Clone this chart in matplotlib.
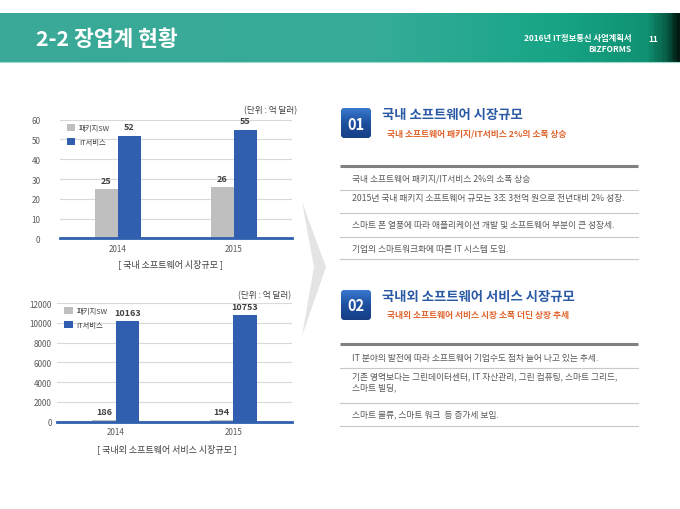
import numpy as np
import matplotlib
matplotlib.use("Agg")
import matplotlib.pyplot as plt
from matplotlib.colors import LinearSegmentedColormap
from matplotlib.patches import FancyBboxPatch, Polygon

plt.rcParams['font.family'] = ['Noto Sans CJK KR', 'DejaVu Sans']

# data
years = ['2014', '2015']
series_names = ['패키지SW', 'IT서비스']
domestic_pkg = [25, 26]
domestic_it = [52, 55]
world_pkg = [186, 194]
world_it = [10163, 10753]

unit_label = '(단위 : 억 달러)'
caption1 = '[ 국내 소프트웨어 시장규모 ]'
caption2 = '[ 국내외 소프트웨어 서비스 시장규모 ]'

sec1_title = '국내 소프트웨어 시장규모'
sec1_sub = '국내 소프트웨어 패키지/IT서비스 2%의 소폭 상승'
sec1_rows = ['국내 소프트웨어 패키지/IT서비스 2%의 소폭 상승',
             '2015년 국내 패키지 소프트웨어 규모는 3조 3천억 원으로 전년대비 2% 성장.',
             '스마트 폰 열풍에 따라 애플리케이션 개발 및 소프트웨어 부분이 큰 성장세.',
             '기업의 스마트워크화에 따른 IT 시스템 도입.']
sec2_title = '국내외 소프트웨어 서비스 시장규모'
sec2_sub = '국내외 소프트웨어 서비스 시장 소폭 더딘 상장 추세'
sec2_rows = ['IT 분야의 발전에 따라 소프트웨어 기업수도 점차 늘어 나고 있는 추세.',
             '기존 영역보다는 그린데이터센터, IT 자산관리, 그린 컴퓨팅, 스마트 그리드,\n스마트 빌딩,',
             '스마트 물류, 스마트 워크  등 증가세 보임.']

GRAY = '#bfbfbf'
BLUE = '#2f5fae'
W, H = 680, 510

fig = plt.figure(figsize=(6.8, 5.1), dpi=100)
bg = fig.add_axes([0, 0, 1, 1])
bg.set_xlim(0, W)
bg.set_ylim(H, 0)
bg.axis('off')

# header band
cmap = LinearSegmentedColormap.from_list('hdr', [
    (0.0, '#3ba997'), (0.55, '#36ac98'), (0.82, '#17a586'),
    (0.955, '#0f9172'), (0.985, '#075a43'), (1.0, '#021a12')])
grad = np.linspace(0, 1, 400).reshape(1, -1)
bg.imshow(grad, cmap=cmap, extent=(0, W, 62.5, 14), aspect='auto', zorder=1)
bg.plot([0, W], [63, 63], color='#9ad8ca', lw=0.8, zorder=2)
bg.set_xlim(0, W)
bg.set_ylim(H, 0)
bg.text(36, 40, '2-2 장업계 현황', color='white', fontsize=15.5, fontweight='bold',
        va='center', ha='left', zorder=3)
bg.text(631, 38, '2016년 IT정보통신 사업계획서', color='white', fontsize=6, fontweight='bold',
        va='center', ha='right', zorder=3)
bg.text(631, 50, 'BIZFORMS', color='white', fontsize=6, fontweight='bold',
        va='center', ha='right', zorder=3)
bg.text(653, 39, '11', color='white', fontsize=6, fontweight='bold',
        va='center', ha='center', zorder=3)

# chevron
bg.add_patch(Polygon([(302, 203), (326, 268), (302, 337), (314, 268)],
                     closed=True, facecolor='#e4e4e4', edgecolor='none', zorder=1))


def bar_chart(px, pkg, it, ymax, step, ypad, leg_anchor):
    left, top, right, bottom = px
    ax = fig.add_axes([left / W, 1 - bottom / H, (right - left) / W, (bottom - top) / H])
    x = np.arange(len(years))
    w = 0.2
    b1 = ax.bar(x - w / 2, pkg, w, color=GRAY, label=series_names[0], zorder=3)
    b2 = ax.bar(x + w / 2, it, w, color=BLUE, label=series_names[1], zorder=3)
    for bars in (b1, b2):
        for r in bars:
            h = r.get_height()
            ax.annotate(f'{int(h)}', (r.get_x() + r.get_width() / 2, h), xytext=(0, 3),
                        textcoords='offset points', ha='center', va='bottom',
                        fontsize=6.5, fontweight='bold', color='#404040')
    ax.set_xlim(-0.5, 1.5)
    ax.set_ylim(0, ymax)
    ax.set_yticks(np.arange(0, ymax + 1, step))
    ax.set_xticks(x, years)
    ax.grid(axis='y', color='#d9d9d9', lw=0.8)
    ax.set_axisbelow(True)
    for s in ['left', 'right', 'top']:
        ax.spines[s].set_visible(False)
    ax.spines['bottom'].set_color(BLUE)
    ax.spines['bottom'].set_linewidth(2)
    ax.spines['bottom'].set_zorder(4)
    ax.tick_params(length=0, labelsize=5.8, labelcolor='#595959')
    ax.tick_params(axis='y', pad=ypad)
    ax.tick_params(axis='x', pad=4)
    ax.legend(loc='upper left', bbox_to_anchor=leg_anchor, frameon=False, fontsize=5.3,
              handlelength=1.2, handleheight=1.1, labelspacing=0.8, handletextpad=0.5,
              labelcolor='#404040')
    return ax


bar_chart((60, 120.7, 292, 239.3), domestic_pkg, domestic_it, 60, 10, 14, (0.0, 1.02))
bar_chart((57.3, 304, 291.7, 422.7), world_pkg, world_it, 12000, 2000, 4, (0.0, 1.02))

bg.text(297, 110.5, unit_label, fontsize=6.2, color='#404040', ha='right', va='center')
bg.text(291, 295.5, unit_label, fontsize=6.2, color='#404040', ha='right', va='center')
bg.text(170, 264, caption1, fontsize=6.5, color='#404040', ha='center', va='center')
bg.text(167, 449, caption2, fontsize=6.5, color='#404040', ha='center', va='center')


def section(num, box_top, title, sub, thick_y, rows, row_ys, sep_ys):
    box = FancyBboxPatch((341, box_top + 1), 30, 30, boxstyle='round,pad=0,rounding_size=4',
                         facecolor='#2356a8', edgecolor='none', zorder=3)
    bg.add_patch(box)
    bcm = LinearSegmentedColormap.from_list('box', ['#3a7ad0', '#1d4f9e', '#163f86'])
    im = bg.imshow(np.linspace(0, 1, 100).reshape(-1, 1), cmap=bcm,
                   extent=(341, 371, box_top + 31, box_top + 1), aspect='auto', zorder=4)
    im.set_clip_path(box)
    bg.set_xlim(0, W)
    bg.set_ylim(H, 0)
    bg.text(356, box_top + 16.5, num, color='white', fontsize=10.5, fontweight='bold',
            ha='center', va='center', zorder=5)
    bg.text(382, box_top + 7, title, color='#2b5aa5', fontsize=9.6, fontweight='bold',
            ha='left', va='center')
    bg.text(387, box_top + 26, sub, color='#e0622a', fontsize=6.3, fontweight='bold',
            ha='left', va='center')
    bg.plot([340, 638], [thick_y, thick_y], color='#808080', lw=2.2, solid_capstyle='butt')
    for t, yy in zip(rows, row_ys):
        bg.text(351.5, yy, t, fontsize=6.3, color='#595959', ha='left', va='center',
                linespacing=1.25)
    for yy in sep_ys:
        bg.plot([340, 638], [yy, yy], color='#c8c8c8', lw=0.8)


section('01', 108, sec1_title, sec1_sub, 167, sec1_rows,
        [179, 198.5, 226, 249.5], [190.5, 213.5, 237.5, 260])
section('02', 290, sec2_title, sec2_sub, 345, sec2_rows,
        [358.5, 382.5, 414.5], [368.5, 403.5, 427])

fig.savefig('out.png', dpi=100)
